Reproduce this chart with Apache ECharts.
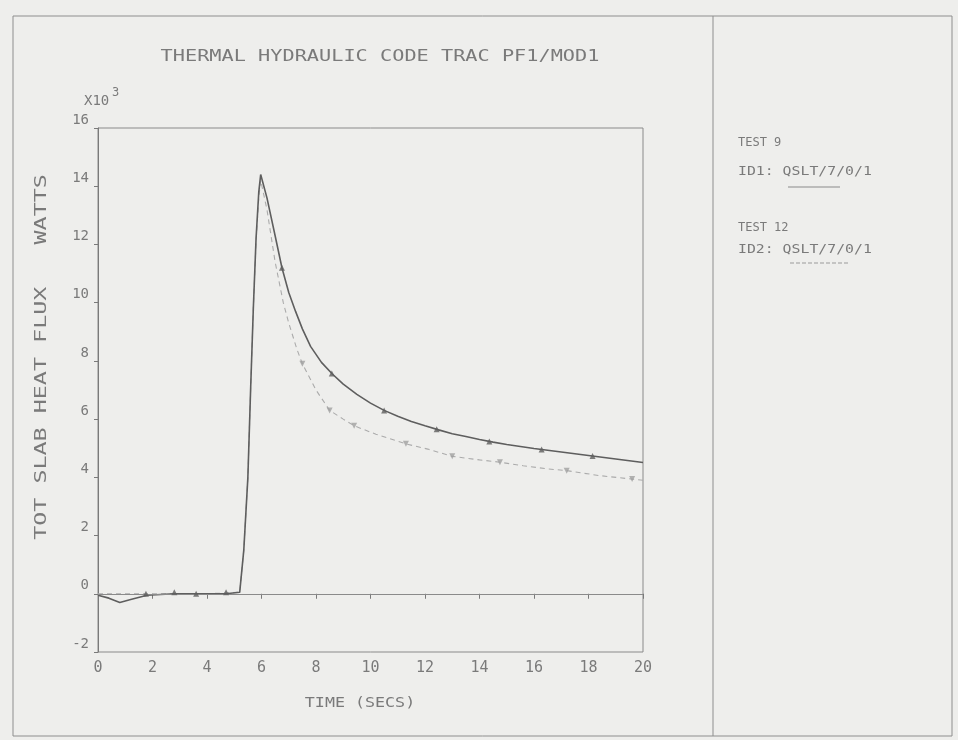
<!DOCTYPE html>
<html>
<head>
<meta charset="utf-8">
<script src="https://cdn.jsdelivr.net/npm/echarts@6/dist/echarts.min.js"></script>
<style>
html,body{margin:0;padding:0;background:#eeeeec;}
#c{width:958px;height:740px;}
</style>
</head>
<body>
<div id="c"></div>
<script>
// ---- data (time in s, heat flux in 10^3 W) ----
const xTicks = [0, 2, 4, 6, 8, 10, 12, 14, 16, 18, 20];
const yTicks = [-2, 0, 2, 4, 6, 8, 10, 12, 14, 16];

// TEST 9  (ID1: QSLT/7/0/1) solid curve
const test9T = [0, 0.4, 0.8, 1.2, 1.8, 2.8, 3.6, 4.7, 5.2, 5.35, 5.5, 5.6, 5.7, 5.8, 5.9, 5.97, 6.2, 6.5, 6.75, 7.0, 7.25, 7.5, 7.8, 8.2, 8.6, 9.0, 9.5, 10.0, 10.5, 11.0, 11.5, 12.0, 12.5, 13.0, 13.5, 14.0, 14.5, 15.0, 15.5, 16.0, 16.5, 17.0, 17.5, 18.0, 18.5, 19.0, 19.5, 20];
const test9V = [-0.05, -0.15, -0.3, -0.2, -0.05, 0.0, 0.0, 0.0, 0.05, 1.5, 4.0, 7.0, 9.8, 12.2, 13.8, 14.4, 13.6, 12.3, 11.2, 10.35, 9.7, 9.1, 8.5, 7.95, 7.55, 7.2, 6.85, 6.55, 6.3, 6.1, 5.92, 5.77, 5.63, 5.5, 5.4, 5.3, 5.21, 5.13, 5.06, 4.99, 4.93, 4.87, 4.81, 4.75, 4.69, 4.63, 4.57, 4.51];
const test9MarkT = [1.76, 2.8, 3.6, 4.7, 6.75, 8.58, 10.5, 12.43, 14.36, 16.28, 18.15];
const test9MarkV = [0.0, 0.05, 0.0, 0.05, 11.2, 7.57, 6.3, 5.65, 5.23, 4.96, 4.73];

// TEST 12 (ID2: QSLT/7/0/1) faint dashed curve
const test12T = [0, 1, 2, 3, 4, 5.2, 5.35, 5.5, 5.6, 5.7, 5.8, 5.9, 5.97, 6.2, 6.5, 6.8, 7.0, 7.3, 7.5, 8.0, 8.5, 9.0, 9.4, 10.2, 11.3, 12.1, 13.0, 14.0, 14.75, 15.6, 16.5, 17.2, 18.4, 19.6, 20];
const test12V = [0, 0, 0, 0, 0, 0.05, 1.5, 4.0, 7.0, 9.8, 12.1, 13.6, 14.2, 13.2, 11.4, 10.0, 9.3, 8.4, 7.9, 7.0, 6.3, 6.0, 5.77, 5.48, 5.15, 4.97, 4.72, 4.6, 4.52, 4.4, 4.29, 4.23, 4.06, 3.94, 3.9];
const test12MarkT = [7.5, 8.5, 9.4, 11.3, 13.0, 14.75, 17.2, 19.6];
const test12MarkV = [7.9, 6.3, 5.77, 5.15, 4.72, 4.52, 4.23, 3.94];

const zip = (a, b) => a.map((t, i) => [t, b[i]]);

const TXT = '#7a7a7a';
const MONO = 'DejaVu Sans Mono';

const chart = echarts.init(document.getElementById('c'), null, {renderer: 'canvas'});

chart.setOption({
  backgroundColor: '#eeeeec',
  animation: false,
  grid: {left: 98, right: 315, top: 128, bottom: 88, show: true, borderColor: '#8a8a8a', borderWidth: 1, backgroundColor: 'transparent'},
  xAxis: {
    type: 'value', min: 0, max: 20, interval: 2,
    axisLine: {show: true, lineStyle: {color: '#7a7a7a', width: 1}},
    axisTick: {show: true, length: 5, lineStyle: {color: '#7a7a7a'}},
    splitLine: {show: false},
    axisLabel: {
      color: TXT, fontFamily: MONO, fontSize: 15, margin: 9,
      formatter: v => xTicks.includes(v) ? String(v) : ''
    }
  },
  yAxis: {
    type: 'value', min: -2, max: 16, interval: 2,
    axisLine: {show: true, lineStyle: {color: '#7a7a7a', width: 1}},
    axisTick: {show: true, length: 4, lineStyle: {color: '#7a7a7a'}},
    splitLine: {show: false},
    axisLabel: {
      color: TXT, fontFamily: MONO, fontSize: 14, margin: 9,
      verticalAlign: 'bottom', padding: [0, 0, 1, 0],
      formatter: v => yTicks.includes(v) ? String(v) : ''
    }
  },
  series: [
    {
      name: 'ID2: QSLT/7/0/1', type: 'line', data: zip(test12T, test12V),
      symbol: 'none', smooth: false,
      lineStyle: {color: '#ababab', width: 1.1, type: [5, 4]},
      z: 2
    },
    {
      name: 'ID2 markers', type: 'scatter', data: zip(test12MarkT, test12MarkV),
      symbol: 'triangle', symbolRotate: 180, symbolSize: 6,
      itemStyle: {color: '#a0a0a0'}, z: 3
    },
    {
      name: 'ID1: QSLT/7/0/1', type: 'line', data: zip(test9T, test9V),
      symbol: 'none', smooth: false,
      lineStyle: {color: '#5e5e5e', width: 1.6},
      markLine: {
        silent: true, symbol: 'none', label: {show: false},
        lineStyle: {color: '#8a8a8a', width: 1, type: 'solid'},
        data: [{yAxis: 0}]
      },
      z: 4
    },
    {
      name: 'ID1 markers', type: 'scatter', data: zip(test9MarkT, test9MarkV),
      symbol: 'triangle', symbolSize: 6,
      itemStyle: {color: '#5e5e5e'}, z: 5
    }
  ],
  graphic: [
    {type: 'rect', shape: {x: 13, y: 16, width: 939, height: 720}, style: {fill: 'none', stroke: '#8e8e8e', lineWidth: 1}, silent: true},
    {type: 'line', shape: {x1: 713, y1: 16, x2: 713, y2: 736}, style: {stroke: '#8e8e8e', lineWidth: 1}, silent: true},
    {type: 'text', x: 380, y: 57, scaleX: 1.35, style: {text: 'THERMAL HYDRAULIC CODE TRAC PF1/MOD1', font: '15px "DejaVu Sans Mono"', fill: TXT, align: 'center', verticalAlign: 'middle'}},
    {type: 'text', x: 84, y: 101, style: {text: 'X10', font: '14px "DejaVu Sans Mono"', fill: TXT, align: 'left', verticalAlign: 'middle'}},
    {type: 'text', x: 112, y: 93, style: {text: '3', font: '12px "DejaVu Sans Mono"', fill: TXT, align: 'left', verticalAlign: 'middle'}},
    {type: 'text', x: 42, y: 357, rotation: Math.PI / 2, scaleX: 1.46, style: {text: 'TOT SLAB HEAT FLUX   WATTS', font: '16px "DejaVu Sans Mono"', fill: TXT, align: 'center', verticalAlign: 'middle'}},
    {type: 'text', x: 360, y: 703, scaleX: 1.19, style: {text: 'TIME (SECS)', font: '14px "DejaVu Sans Mono"', fill: TXT, align: 'center', verticalAlign: 'middle'}},
    {type: 'text', x: 738, y: 143, style: {text: 'TEST 9', font: '12px "DejaVu Sans Mono"', fill: TXT, align: 'left', verticalAlign: 'middle'}},
    {type: 'text', x: 738, y: 172, scaleX: 1.14, style: {text: 'ID1: QSLT/7/0/1', font: '13px "DejaVu Sans Mono"', fill: TXT, align: 'left', verticalAlign: 'middle'}},
    {type: 'line', shape: {x1: 788, y1: 187, x2: 840, y2: 187}, style: {stroke: '#8a8a8a', lineWidth: 1}},
    {type: 'text', x: 738, y: 228, style: {text: 'TEST 12', font: '12px "DejaVu Sans Mono"', fill: TXT, align: 'left', verticalAlign: 'middle'}},
    {type: 'text', x: 738, y: 250, scaleX: 1.14, style: {text: 'ID2: QSLT/7/0/1', font: '13px "DejaVu Sans Mono"', fill: TXT, align: 'left', verticalAlign: 'middle'}},
    {type: 'line', shape: {x1: 790, y1: 263, x2: 850, y2: 263}, style: {stroke: '#9a9a9a', lineWidth: 1, lineDash: [4, 2]}}
  ]
});
</script>
</body>
</html>
